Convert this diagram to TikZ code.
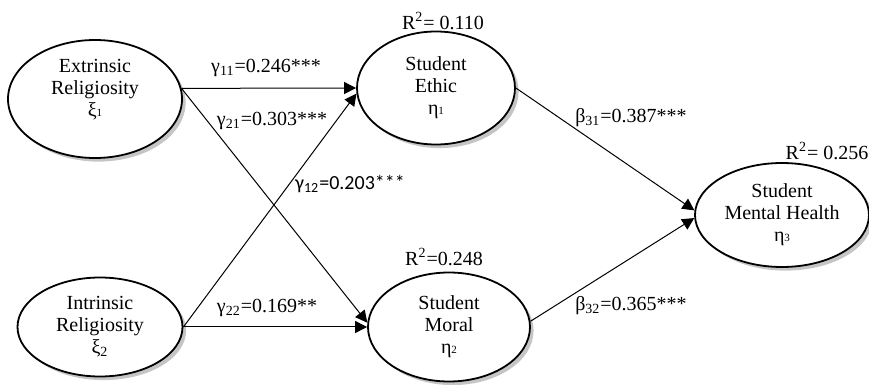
\documentclass[tikz,border=0pt]{standalone}
\usepackage{fontspec}
\setmainfont{Liberation Serif}
\newfontfamily\carlito{Carlito}
\usepackage{tikz}
\usetikzlibrary{arrows.meta, shapes.geometric, shadows}
\newcommand{\idx}[1]{{\fontsize{5.5}{6}\selectfont #1}}

\begin{document}
\begin{tikzpicture}[
        x=0.5pt, y=-0.5pt,
        latent/.style={ellipse, draw, line width=0.9pt, fill=white, inner sep=0pt, align=center,
                       font=\fontsize{10}{11}\selectfont,
                       drop shadow={shadow xshift=1.8pt, shadow yshift=-1.8pt, fill=black!45}},
        coef/.style={inner sep=0pt, font=\fontsize{10}{12}\selectfont},
        arrow/.style={-{Triangle[length=6pt, width=6pt]}, line width=0.5pt},
    ]
    \useasboundingbox (0,0) rectangle (869,385);

    \node[latent, minimum width=87pt,   minimum height=59pt]   (ext)   at (95,99)   {Extrinsic\\Religiosity\\ξ\idx{1}\\[-3pt]\strut};
    \node[latent, minimum width=82.5pt, minimum height=49.5pt] (int)   at (100,327) {Intrinsic\\Religiosity\\ξ\textsubscript{2}};
    \node[latent, minimum width=79pt,   minimum height=56.5pt] (ethic) at (436,88)  {Student\\Ethic\\η\idx{1}};
    \node[latent, minimum width=81pt,   minimum height=54.5pt] (moral) at (449,327) {Student\\Moral\\η\idx{2}};
    \node[latent, minimum width=87pt,   minimum height=52pt]   (mh)    at (782,215) {Student\\Mental Health\\η\idx{3}};

    % path coefficients
    \node[coef] (g11) at (266,68)  {γ\textsubscript{11}=0.246***};
    \node[coef] (g21) at (272,121) {γ\textsubscript{21}=0.303***};
    \node[coef, font=\fontsize{10}{12}\carlito] (g12) at (350,184) {γ\textsubscript{12}=0.203***};
    \node[coef] (g22) at (267,308) {γ\textsubscript{22}=0.169**};
    \node[coef] (b31) at (631,118) {β\textsubscript{31}=0.387***};
    \node[coef] (b32) at (631,306) {β\textsubscript{32}=0.365***};

    % explained variance
    \node[coef] (r1) at (443,21)  {R\textsuperscript{2}= 0.110};
    \node[coef] (r2) at (444,257) {R\textsuperscript{2}=0.248};
    \node[coef] (r3) at (827,151) {R\textsuperscript{2}= 0.256};

    \foreach \a/\b in {ext.7/ethic.west, ext.7/moral.177, int.east/ethic.184, int.east/moral.west,
                       ethic.east/mh.177, moral.4/mh.182} {
        \draw[arrow] (\a) -- (\b);
    }
\end{tikzpicture}
\end{document}
